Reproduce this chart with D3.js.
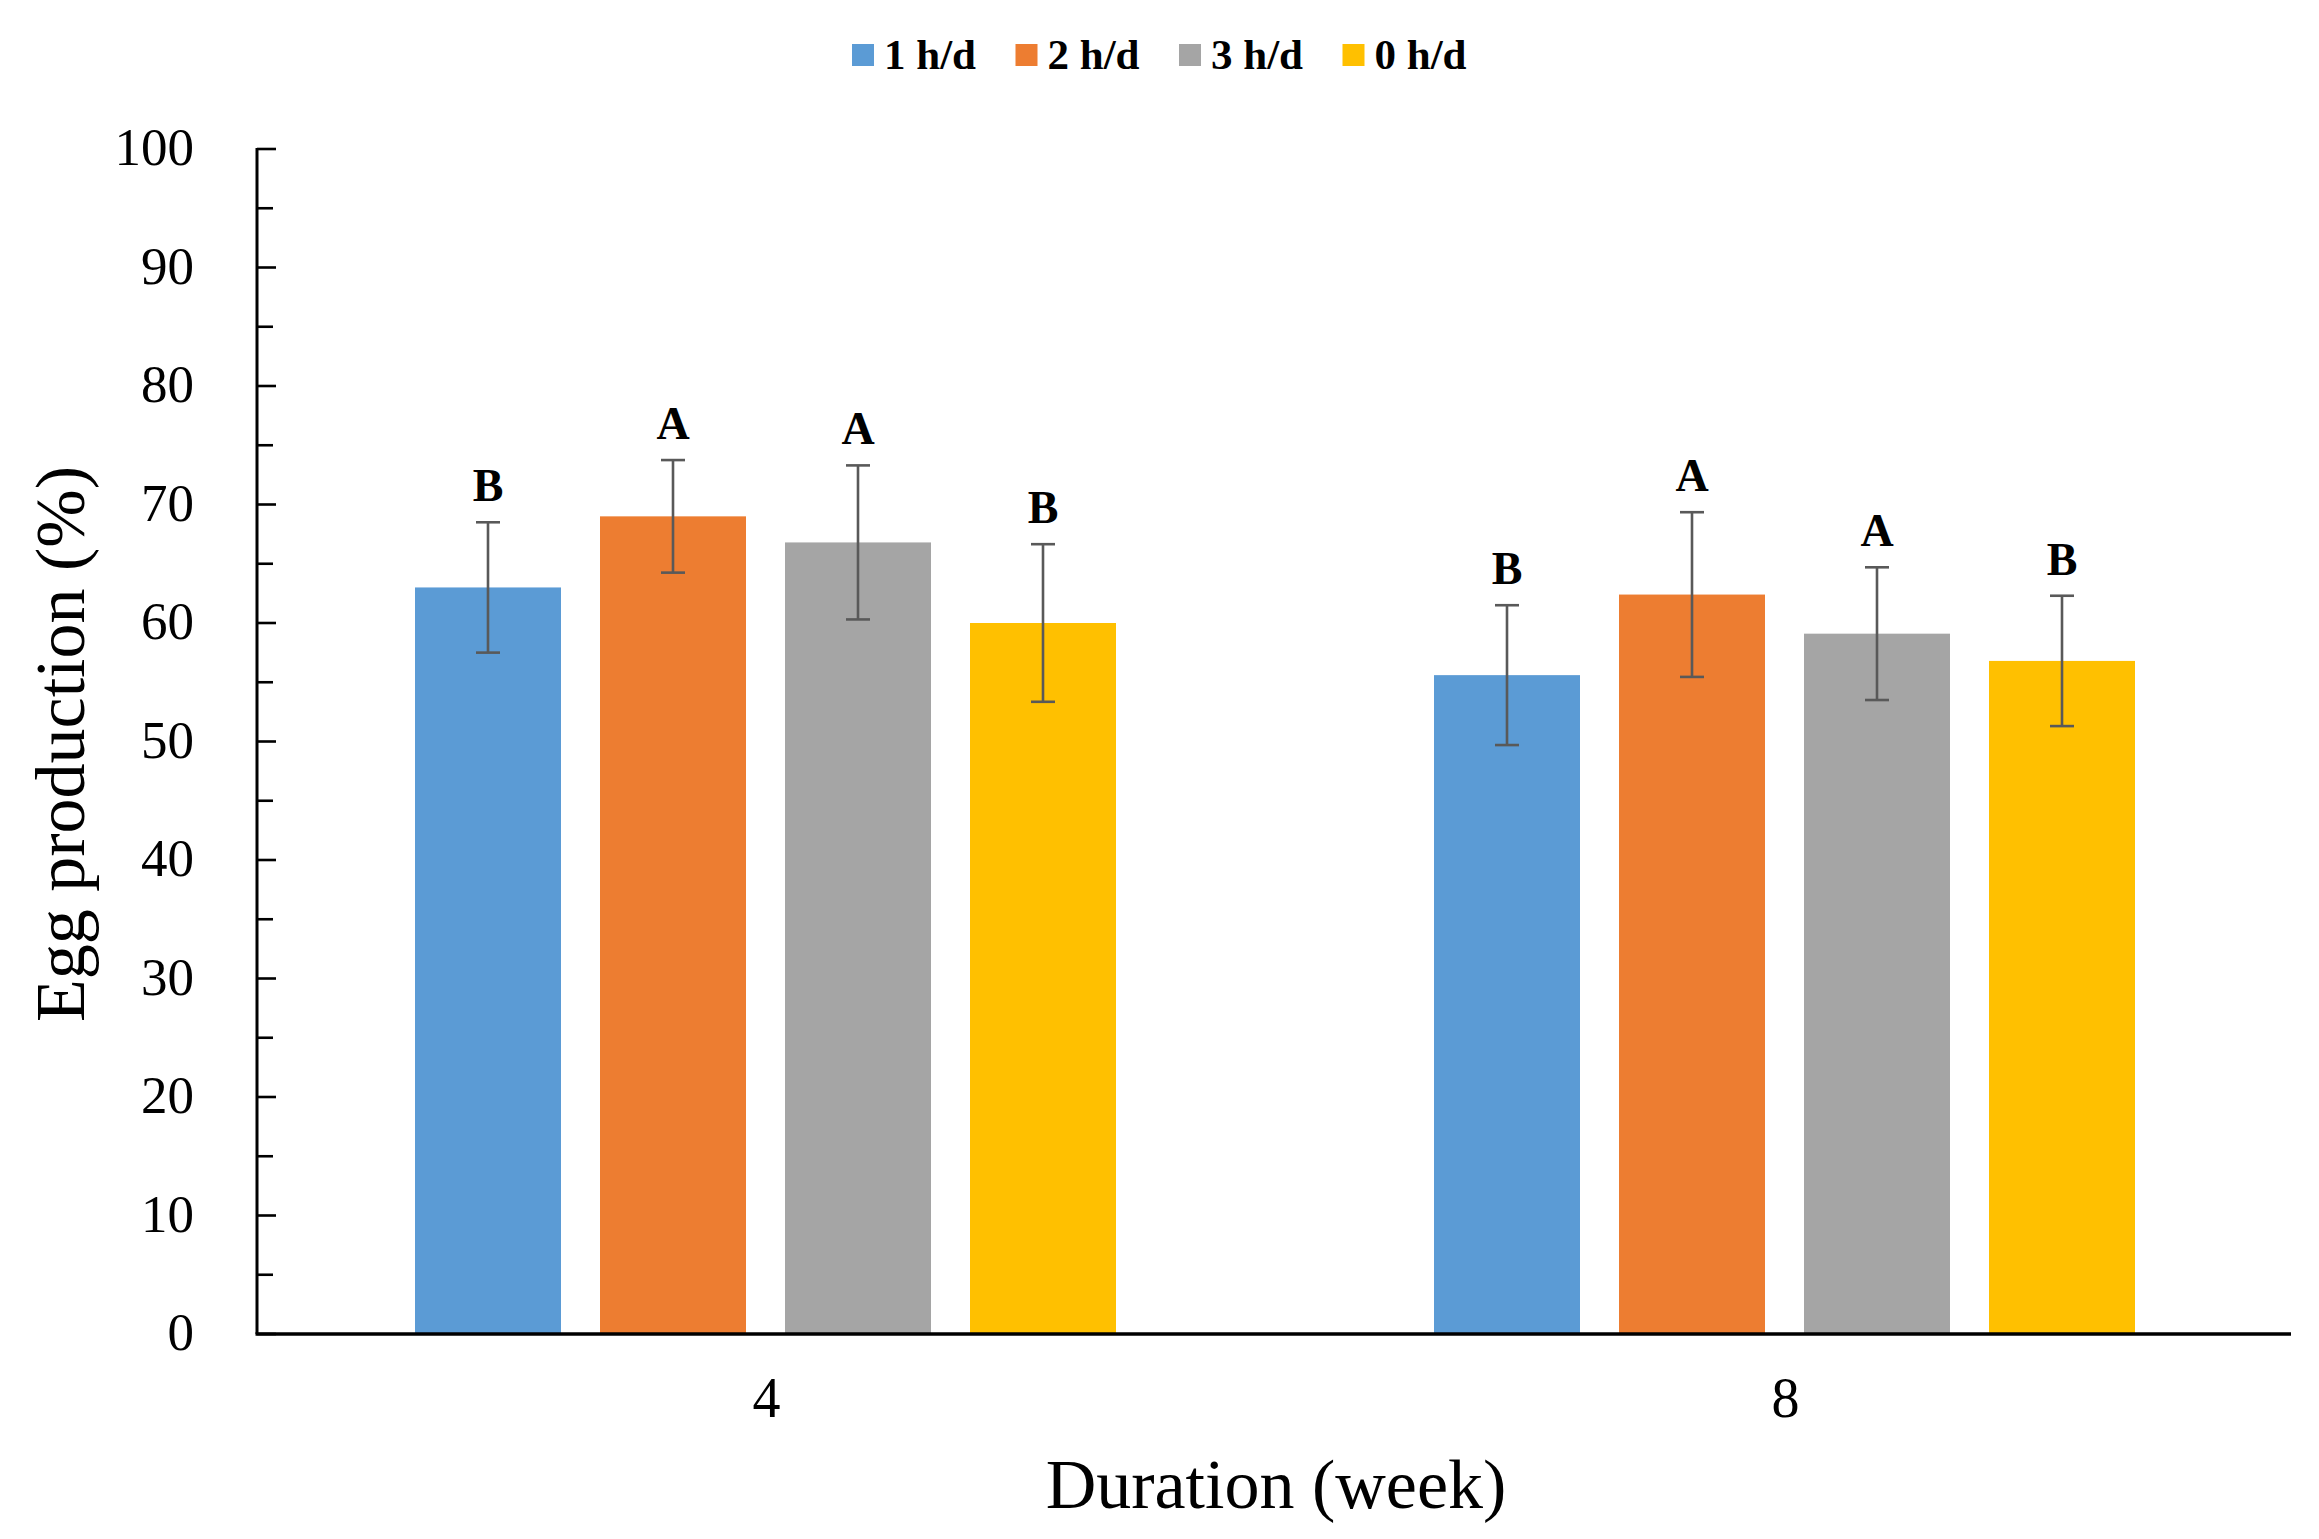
<!DOCTYPE html>
<html>
<head>
<meta charset="utf-8">
<script src="https://cdn.jsdelivr.net/npm/d3@7"></script>
<style>
  html, body { margin: 0; padding: 0; background: #fff; }
  svg { display: block; }
  text { font-family: "Liberation Serif", "Times New Roman", serif; fill: #000; }
</style>
</head>
<body>
<script>
// ---- data ----
const categories = ["4", "8"];
const series = ["1 h/d", "2 h/d", "3 h/d", "0 h/d"];
const colors = ["#5B9BD5", "#ED7D31", "#A5A5A5", "#FFC000"];
const values_4 = [63.0, 69.0, 66.8, 60.0];
const values_8 = [55.6, 62.4, 59.1, 56.8];
const errors_4 = [5.5, 4.75, 6.5, 6.65];
const errors_8 = [5.9, 6.95, 5.6, 5.5];
const letters_4 = ["B", "A", "A", "B"];
const letters_8 = ["B", "A", "A", "B"];
const yTicks = [0, 10, 20, 30, 40, 50, 60, 70, 80, 90, 100];
const yMinorTicks = [5, 15, 25, 35, 45, 55, 65, 75, 85, 95];
const xTitle = "Duration (week)";
const yTitle = "Egg production (%)";

const valuesByCat = [values_4, values_8];
const errorsByCat = [errors_4, errors_8];
const lettersByCat = [letters_4, letters_8];

const W = 2319, H = 1539;
const svg = d3.select("body").append("svg").attr("width", W).attr("height", H);
svg.append("rect").attr("width", W).attr("height", H).attr("fill", "#fff");

const axisLeft = 257, axisRight = 2291;
const y = d3.scaleLinear().domain([0, 100]).range([1334, 149]);
const x0 = d3.scaleBand().domain(categories).range([256, 2294]);
const groupW = 701;
const x1 = d3.scaleBand().domain(series)
  .range([(x0.bandwidth() - groupW) / 2, (x0.bandwidth() + groupW) / 2])
  .paddingInner(39 / 185);

// bars
const rows = [];
categories.forEach((c, ci) => {
  series.forEach((s, si) => {
    rows.push({ cat: c, s, si, v: valuesByCat[ci][si], e: errorsByCat[ci][si], l: lettersByCat[ci][si] });
  });
});

const g = svg.append("g");
g.selectAll("rect.bar").data(rows).join("rect")
  .attr("class", "bar")
  .attr("x", d => x0(d.cat) + x1(d.s))
  .attr("width", x1.bandwidth())
  .attr("y", d => y(d.v))
  .attr("height", d => y(0) - y(d.v))
  .attr("fill", d => colors[d.si]);

// error bars
const eb = g.selectAll("g.err").data(rows).join("g").attr("class", "err")
  .attr("transform", d => `translate(${x0(d.cat) + x1(d.s) + x1.bandwidth() / 2},0)`);
eb.append("line").attr("x1", 0).attr("x2", 0)
  .attr("y1", d => y(d.v + d.e)).attr("y2", d => y(d.v - d.e))
  .attr("stroke", "#595959").attr("stroke-width", 2.6);
eb.append("line").attr("x1", -12).attr("x2", 12)
  .attr("y1", d => y(d.v + d.e)).attr("y2", d => y(d.v + d.e))
  .attr("stroke", "#595959").attr("stroke-width", 2.6);
eb.append("line").attr("x1", -12).attr("x2", 12)
  .attr("y1", d => y(d.v - d.e)).attr("y2", d => y(d.v - d.e))
  .attr("stroke", "#595959").attr("stroke-width", 2.6);
eb.append("text")
  .attr("x", 0).attr("y", d => y(d.v + d.e) - 21)
  .attr("text-anchor", "middle")
  .attr("font-size", 46).attr("font-weight", "bold")
  .text(d => d.l);

// y axis
const yAxisG = svg.append("g");
yAxisG.append("line").attr("x1", axisLeft).attr("x2", axisLeft)
  .attr("y1", y(100) - 1).attr("y2", y(0))
  .attr("stroke", "#000").attr("stroke-width", 3);
yAxisG.selectAll("line.maj").data(yTicks).join("line").attr("class", "maj")
  .attr("x1", axisLeft).attr("x2", axisLeft + 19)
  .attr("y1", d => y(d)).attr("y2", d => y(d))
  .attr("stroke", "#000").attr("stroke-width", 2.6);
yAxisG.selectAll("line.min").data(yMinorTicks).join("line").attr("class", "min")
  .attr("x1", axisLeft).attr("x2", axisLeft + 16)
  .attr("y1", d => y(d)).attr("y2", d => y(d))
  .attr("stroke", "#000").attr("stroke-width", 2.6);
yAxisG.selectAll("text").data(yTicks).join("text")
  .attr("x", 194).attr("y", d => y(d) + 16)
  .attr("text-anchor", "end").attr("font-size", 53)
  .text(d => d);

// x axis
svg.append("line").attr("x1", axisLeft - 1.5).attr("x2", axisRight)
  .attr("y1", y(0)).attr("y2", y(0))
  .attr("stroke", "#000").attr("stroke-width", 3.5);
svg.append("g").selectAll("text").data(categories).join("text")
  .attr("x", d => x0(d) + x0.bandwidth() / 2 + 1)
  .attr("y", 1417)
  .attr("text-anchor", "middle").attr("font-size", 56)
  .text(d => d);

// titles
svg.append("text").attr("x", 1276).attr("y", 1508)
  .attr("text-anchor", "middle").attr("font-size", 70)
  .text(xTitle);
svg.append("text")
  .attr("transform", "translate(84,744) rotate(-90)")
  .attr("text-anchor", "middle").attr("font-size", 70)
  .text(yTitle);

// legend
const leg = svg.append("g").selectAll("g").data(series).join("g")
  .attr("transform", (d, i) => `translate(${852 + i * 163.5},0)`);
leg.append("rect").attr("x", 0).attr("y", 44).attr("width", 22).attr("height", 22)
  .attr("fill", (d, i) => colors[i]);
leg.append("text").attr("x", 32).attr("y", 69)
  .attr("font-size", 43).attr("font-weight", "bold")
  .text(d => d);
</script>
</body>
</html>
